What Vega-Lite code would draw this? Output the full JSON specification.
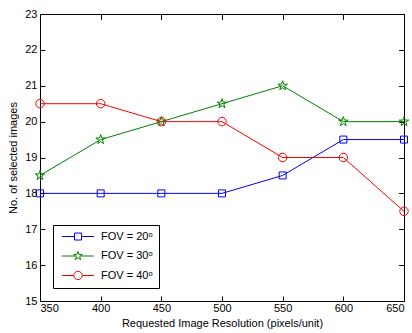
{
  "$schema": "https://vega.github.io/schema/vega-lite/v6.json",
  "width": 364,
  "height": 287,
  "autosize": "none",
  "padding": {"left": 40, "top": 14, "right": 8, "bottom": 32},
  "config": {
    "font": "Liberation Sans",
    "view": {"stroke": "black", "strokeWidth": 1},
    "axis": {
      "grid": false,
      "domainColor": "black",
      "tickColor": "black",
      "tickSize": -5,
      "labelColor": "black",
      "labelFontSize": 11,
      "titleColor": "black",
      "titleFontSize": 11,
      "titleFontWeight": "normal",
      "labelFont": "Liberation Sans",
      "titleFont": "Liberation Sans"
    }
  },
  "data": {
    "values": [
      {"res": 350, "n": 18, "fov": "FOV = 20ᵒ"},
      {"res": 400, "n": 18, "fov": "FOV = 20ᵒ"},
      {"res": 450, "n": 18, "fov": "FOV = 20ᵒ"},
      {"res": 500, "n": 18, "fov": "FOV = 20ᵒ"},
      {"res": 550, "n": 18.5, "fov": "FOV = 20ᵒ"},
      {"res": 600, "n": 19.5, "fov": "FOV = 20ᵒ"},
      {"res": 650, "n": 19.5, "fov": "FOV = 20ᵒ"},
      {"res": 350, "n": 18.5, "fov": "FOV = 30ᵒ"},
      {"res": 400, "n": 19.5, "fov": "FOV = 30ᵒ"},
      {"res": 450, "n": 20, "fov": "FOV = 30ᵒ"},
      {"res": 500, "n": 20.5, "fov": "FOV = 30ᵒ"},
      {"res": 550, "n": 21, "fov": "FOV = 30ᵒ"},
      {"res": 600, "n": 20, "fov": "FOV = 30ᵒ"},
      {"res": 650, "n": 20, "fov": "FOV = 30ᵒ"},
      {"res": 350, "n": 20.5, "fov": "FOV = 40ᵒ"},
      {"res": 400, "n": 20.5, "fov": "FOV = 40ᵒ"},
      {"res": 450, "n": 20, "fov": "FOV = 40ᵒ"},
      {"res": 500, "n": 20, "fov": "FOV = 40ᵒ"},
      {"res": 550, "n": 19, "fov": "FOV = 40ᵒ"},
      {"res": 600, "n": 19, "fov": "FOV = 40ᵒ"},
      {"res": 650, "n": 17.5, "fov": "FOV = 40ᵒ"}
    ]
  },
  "layer": [
    {
      "mark": {"type": "line", "strokeWidth": 1},
      "encoding": {
        "x": {
          "field": "res", "type": "quantitative",
          "scale": {"domain": [350, 650], "nice": false, "zero": false},
          "axis": {"orient": "bottom", "values": [350, 400, 450, 500, 550, 600, 650], "title": "Requested Image Resolution (pixels/unit)", "titlePadding": 4, "labelPadding": 6}
        },
        "y": {
          "field": "n", "type": "quantitative",
          "scale": {"domain": [15, 23], "nice": false, "zero": false},
          "axis": {"orient": "left", "values": [15, 16, 17, 18, 19, 20, 21, 22, 23], "title": "No. of selected images", "titlePadding": 6, "labelPadding": 8}
        },
        "color": {
          "field": "fov", "type": "nominal",
          "scale": {"domain": ["FOV = 20ᵒ", "FOV = 30ᵒ", "FOV = 40ᵒ"], "range": ["#0000ff", "#008000", "#ff0000"]},
          "legend": {
            "title": null,
            "orient": "none",
            "legendX": 13,
            "legendY": 211,
            "padding": 6,
            "strokeColor": "black",
            "fillColor": "white",
            "symbolSize": 49,
            "symbolStrokeWidth": 1,
            "symbolOffset": 13.5,
            "labelOffset": 17.5,
            "labelFontSize": 11,
            "labelColor": "black",
            "rowPadding": 6.5,
            "encode": {
              "symbols": {
                "update": {
                  "fill": {"value": "transparent"},
                  "shape": {"signal": "datum.value === 'FOV = 20ᵒ' ? 'M-4.6,0L-1,0M-1,-1L1,-1L1,1L-1,1ZM1,0L4.6,0' : datum.value === 'FOV = 30ᵒ' ? 'M-4.6,0L-0.8,0M0,-1.3L0.29,-0.4L1.24,-0.4L0.47,0.15L0.76,1.05L0,0.5L-0.76,1.05L-0.47,0.15L-1.24,-0.4L-0.29,-0.4ZM0.8,0L4.6,0' : 'M-4.6,0L-1.2,0M-1.2,0A1.2,1.2 0 1,0 1.2,0A1.2,1.2 0 1,0 -1.2,0M1.2,0L4.6,0'"}
                }
              }
            }
          }
        }
      }
    },
    {
      "transform": [{"filter": "datum.fov === 'FOV = 20ᵒ'"}],
      "mark": {"type": "point", "filled": false, "strokeWidth": 1, "size": 49, "shape": "square", "color": "#0000ff", "opacity": 1},
      "encoding": {
        "x": {"field": "res", "type": "quantitative", "axis": {"orient": "top", "labels": false, "title": null, "domain": false, "values": [350, 400, 450, 500, 550, 600, 650]}},
        "y": {"field": "n", "type": "quantitative", "axis": {"orient": "right", "labels": false, "title": null, "domain": false, "values": [15, 16, 17, 18, 19, 20, 21, 22, 23]}}
      }
    },
    {
      "transform": [{"filter": "datum.fov === 'FOV = 30ᵒ'"}],
      "mark": {"type": "point", "filled": false, "strokeWidth": 1, "size": 100, "shape": "M0,-1L0.225,-0.309L0.951,-0.309L0.363,0.118L0.588,0.809L0,0.382L-0.588,0.809L-0.363,0.118L-0.951,-0.309L-0.225,-0.309Z", "color": "#008000", "opacity": 1},
      "encoding": {
        "x": {"field": "res", "type": "quantitative", "axis": {"orient": "top", "labels": false, "title": null, "domain": false, "values": [350, 400, 450, 500, 550, 600, 650]}},
        "y": {"field": "n", "type": "quantitative", "axis": {"orient": "right", "labels": false, "title": null, "domain": false, "values": [15, 16, 17, 18, 19, 20, 21, 22, 23]}}
      }
    },
    {
      "transform": [{"filter": "datum.fov === 'FOV = 40ᵒ'"}],
      "mark": {"type": "point", "filled": false, "strokeWidth": 1, "size": 72, "shape": "circle", "color": "#ff0000", "opacity": 1},
      "encoding": {
        "x": {"field": "res", "type": "quantitative", "axis": {"orient": "top", "labels": false, "title": null, "domain": false, "values": [350, 400, 450, 500, 550, 600, 650]}},
        "y": {"field": "n", "type": "quantitative", "axis": {"orient": "right", "labels": false, "title": null, "domain": false, "values": [15, 16, 17, 18, 19, 20, 21, 22, 23]}}
      }
    }
  ]
}
